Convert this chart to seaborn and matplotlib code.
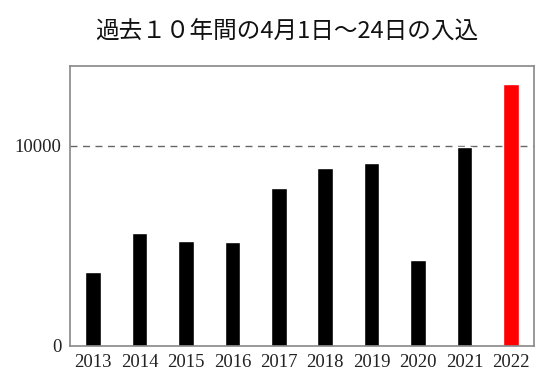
import numpy as np
import pandas as pd
import matplotlib
matplotlib.use("Agg")
import matplotlib.pyplot as plt
import seaborn as sns

# data
years = ["2013", "2014", "2015", "2016", "2017", "2018", "2019", "2020", "2021", "2022"]
visitors = [3700, 5650, 5250, 5200, 7900, 8900, 9130, 4300, 9930, 13080]
bar_colors = ["black"] * 9 + ["#ff0000"]
title = "過去１０年間の4月1日～24日の入込"

sns.set_style("white")
plt.rcParams["font.family"] = ["Liberation Serif", "Noto Sans CJK JP", "DejaVu Sans"]

df = pd.DataFrame({"year": years, "visitors": visitors})

fig = plt.figure(figsize=(5.52, 3.82), dpi=100)
ax = fig.add_axes([70 / 552, 1 - 346 / 382, 464 / 552, 280 / 382])

sns.barplot(data=df, x="year", y="visitors", hue="year", palette=bar_colors,
            legend=False, width=0.34, saturation=1, ax=ax)

ax.axhline(10000, color="#666666", lw=1, ls=(0, (5, 4)), zorder=0)
ax.set_ylim(0, 14000)
ax.set_xlim(-0.5, len(years) - 0.5)
ax.set_yticks([0, 10000])
ax.set_yticklabels(["0", "10000"])
ax.set_xlabel("")
ax.set_ylabel("")
ax.tick_params(axis="both", length=0, labelsize=13.5, colors="#222222", pad=6)
for sp in ax.spines.values():
    sp.set_color("#888888")
    sp.set_linewidth(1.2)

fig.text(287 / 552, 1 - 32 / 382, title, ha="center", va="center", fontsize=17,
         family=["Noto Sans CJK JP", "DejaVu Sans"], color="#111111")

fig.savefig("out.png", dpi=100)
